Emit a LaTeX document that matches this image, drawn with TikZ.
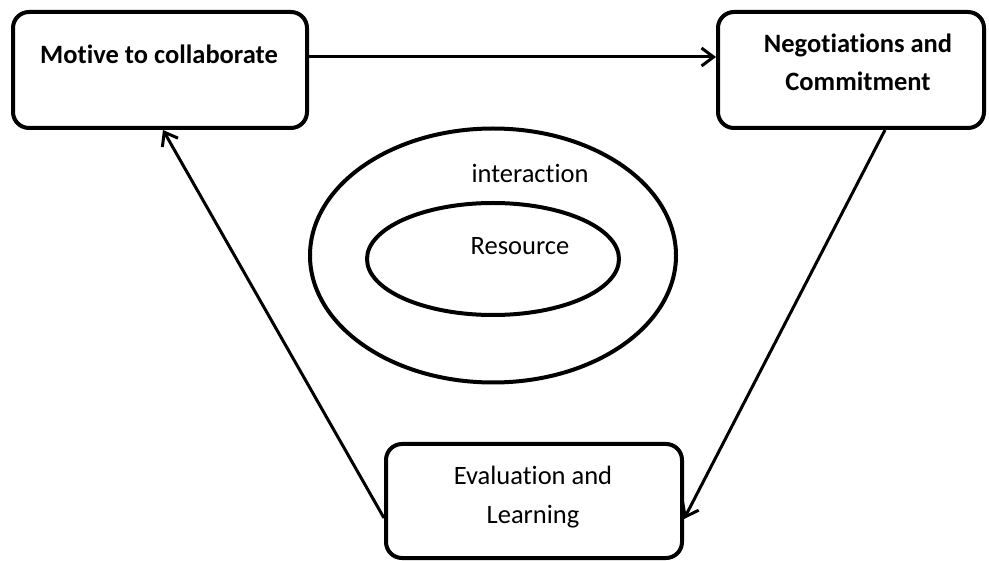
\documentclass[tikz,border=0pt]{standalone}
\usepackage{fontspec}
\setmainfont[RawFeature={-liga}]{Carlito}
\usetikzlibrary{arrows.meta}
\begin{document}
\begin{tikzpicture}[x=1pt,y=-1pt,
  stagebox/.style={draw, line width=4pt, rounded corners=16pt, inner sep=0pt},
  flow/.style={line width=3pt, -{Straight Barb[length=12pt,width=18pt,line width=3pt]}},
  ring/.style={draw, line width=4pt},
  lbl/.style={anchor=base, inner sep=0pt, font=\fontsize{26.5}{30}\selectfont},
  lblb/.style={lbl, font=\fontsize{26.5}{30}\selectfont\bfseries}]
\useasboundingbox (0,0) rectangle (989,561);

% stages of the cycle
\node[stagebox, minimum width=294pt, minimum height=116pt] (motive) at (160,70) {};
\node[stagebox, minimum width=266pt, minimum height=116pt] (nego) at (851,70) {};
\node[stagebox, minimum width=296pt, minimum height=114pt] (eval) at (534,501) {};

\node[lblb] (tmotive) at (159,64) {Motive to collaborate};
\node[lblb] (tnego1) at (858,53) {Negotiations and};
\node[lblb] (tnego2) at (858,91) {Commitment};
\node[lbl] (teval1) at (533,485) {Evaluation and};
\node[lbl] (teval2) at (533,523) {Learning};

% nested rings in the middle
\draw[ring] (493,255.5) ellipse [x radius=183, y radius=127];
\draw[ring] (493,259) ellipse [x radius=126, y radius=56];
\node[lbl] (tinter) at (530,183) {interaction};
\node[lbl] (tres) at (520,255) {Resource};

% connectors
\draw[flow] ([yshift=13pt]motive.east) -- ([yshift=13pt]nego.west);
\draw[flow] ([xshift=34pt]nego.south) -- ([yshift=-18pt]eval.east);
\draw[flow] ([yshift=-17pt]eval.west) -- ([xshift=3pt]motive.south);
\end{tikzpicture}
\end{document}
